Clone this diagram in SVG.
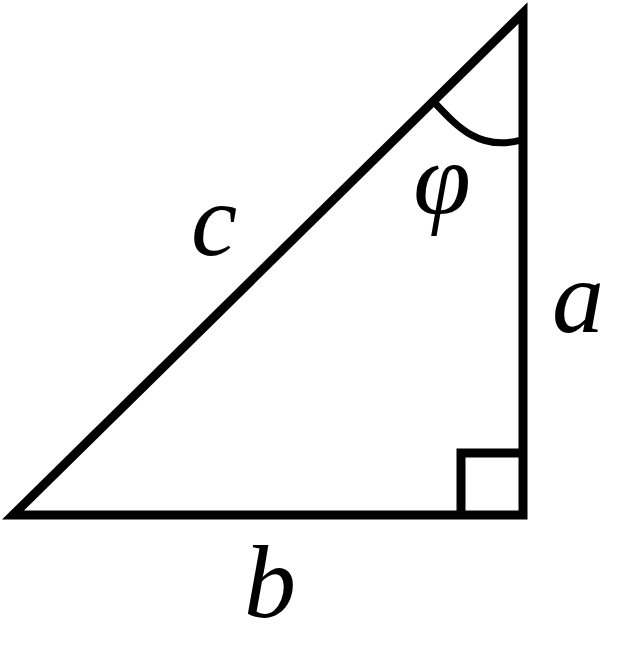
<svg xmlns="http://www.w3.org/2000/svg" width="634" height="650" viewBox="0 0 634 650">
<style>
.ln{fill:none;stroke:#000;stroke-width:9;stroke-linejoin:miter;stroke-miterlimit:10}
.arc{fill:none;stroke:#000;stroke-width:7}
.lbl{font-family:"Liberation Serif","Times New Roman",serif;font-style:italic;font-size:104px;fill:#000;text-anchor:middle}
</style>
<rect width="634" height="650" fill="#fff"/>
<g id="triangle">
<polygon class="ln" points="13,515 523,13 523,515"/>
<polyline class="ln" points="461,515 461,453 523,453"/>
<path class="arc" d="M433,101 C455,124 478,152 521,140"/>
</g>
<g id="labels">
<text class="lbl" x="214" y="255">c</text>
<text class="lbl" x="578" y="332">a</text>
<text class="lbl" x="270" y="617">b</text>
<text class="lbl" x="442" y="214">φ</text>
</g>
</svg>
